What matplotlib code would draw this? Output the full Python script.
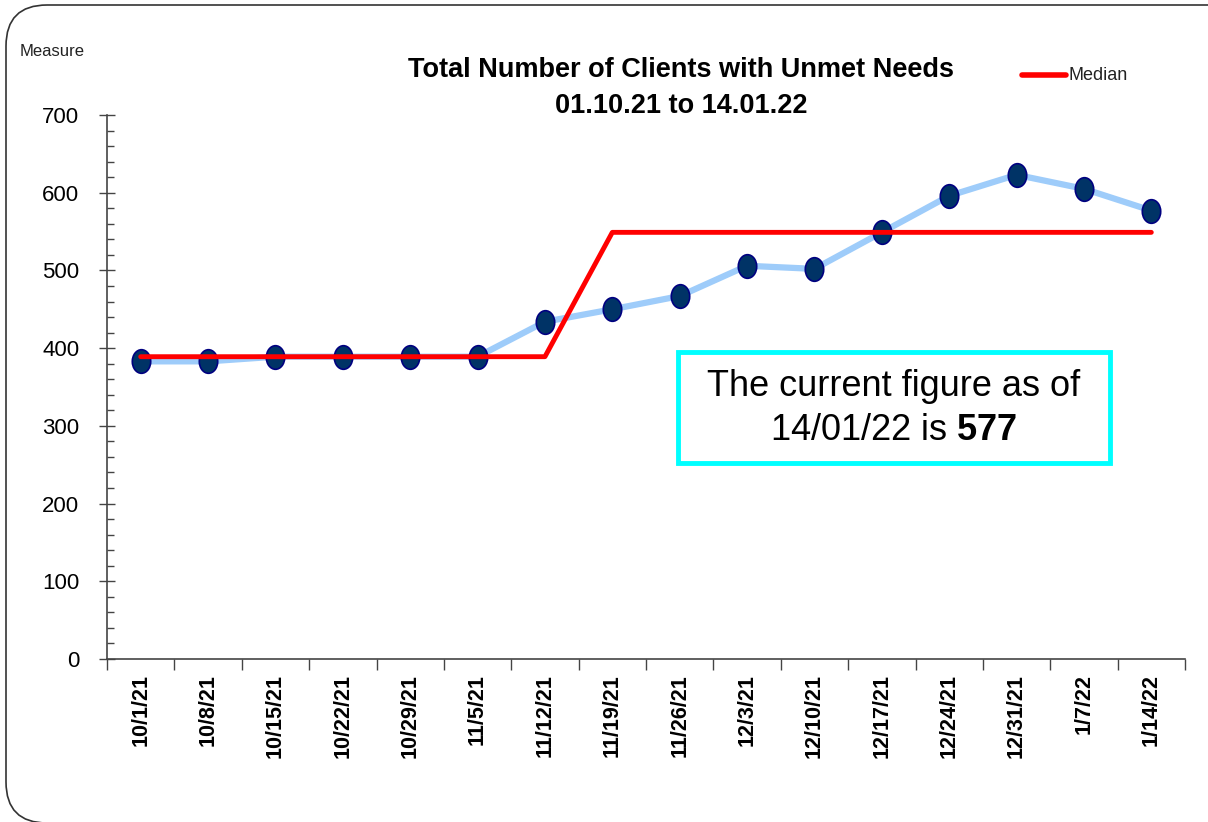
import numpy as np
import matplotlib.pyplot as plt
from matplotlib.path import Path
from matplotlib.patches import FancyBboxPatch
from matplotlib.lines import Line2D
from matplotlib.ticker import MultipleLocator, FixedLocator

# data
dates = ["10/1/21", "10/8/21", "10/15/21", "10/22/21", "10/29/21", "11/5/21",
         "11/12/21", "11/19/21", "11/26/21", "12/3/21", "12/10/21", "12/17/21",
         "12/24/21", "12/31/21", "1/7/22", "1/14/22"]
measure = [383, 383, 389, 389, 389, 389, 434, 450, 467, 506, 502, 549,
           596, 623, 605, 577]
median = [389, 389, 389, 389, 389, 389, 389, 549, 549, 549, 549, 549,
          549, 549, 549, 549]

plt.rcParams["font.family"] = ["Liberation Sans", "DejaVu Sans"]
plt.rcParams["mathtext.fontset"] = "custom"
plt.rcParams["mathtext.bf"] = "Liberation Sans:bold"
plt.rcParams["mathtext.rm"] = "Liberation Sans"

W, H = 1208, 822
fig = plt.figure(figsize=(W / 100, H / 100), dpi=100)

# rounded frame round the whole picture (right and bottom edges run off the image)
frame = FancyBboxPatch((6 / W, 1 - 823 / H), 1.1, (823 - 5) / H,
                       boxstyle="round,pad=0,rounding_size=0.034",
                       transform=fig.transFigure, facecolor="none",
                       edgecolor="#333333", linewidth=1.2, clip_on=False,
                       mutation_aspect=W / H)
fig.patches.append(frame)

ax = fig.add_axes([107 / W, 1 - 659 / H, (1185 - 107) / W, (659 - 115) / H])

x = np.arange(len(dates))

# elliptical marker, taller than wide
circle = Path.unit_circle()
ellipse = Path(circle.vertices * np.array([0.78, 1.0]), circle.codes)

ax.plot(x, measure, color="#9ECCFA", linewidth=4.5, zorder=2,
        marker=ellipse, markersize=17, markerfacecolor="#003366",
        markeredgecolor="#000080", markeredgewidth=1.2)
ax.plot(x, median, color="#FF0000", linewidth=3.5, zorder=3,
        solid_capstyle="round")

ax.set_xlim(-0.5, len(dates) - 0.5)
ax.set_ylim(0, 700)

for s in ["top", "right"]:
    ax.spines[s].set_visible(False)
for s in ["left", "bottom"]:
    ax.spines[s].set_color("#444444")
    ax.spines[s].set_linewidth(1.2)

# x ticks at category boundaries, labels at centres
ax.xaxis.set_major_locator(FixedLocator(np.arange(-0.5, len(dates), 1.0)))
ax.xaxis.set_minor_locator(FixedLocator(x))
ax.set_xticklabels([], minor=False)
ax.set_xticklabels(dates, minor=True, rotation=90, fontsize=15.5,
                   fontweight="bold")
ax.tick_params(axis="x", which="major", length=8, direction="out",
               color="#444444", width=1)
ax.tick_params(axis="x", which="minor", length=0, pad=11)

ax.yaxis.set_major_locator(MultipleLocator(100))
ax.yaxis.set_minor_locator(MultipleLocator(20))
ax.tick_params(axis="y", which="major", direction="inout", length=12,
               color="#444444", width=1, pad=14, labelsize=16)
ax.tick_params(axis="y", which="minor", direction="in", length=5,
               color="#444444", width=1)

# title, axis caption, legend
fig.text(681 / W, 1 - 70 / H, "Total Number of Clients with Unmet Needs",
         ha="center", va="center", fontsize=19.5, fontweight="bold")
fig.text(681 / W, 1 - 106 / H, "01.10.21 to 14.01.22",
         ha="center", va="center", fontsize=19.5, fontweight="bold")
fig.text(20 / W, 1 - 51 / H, "Measure", ha="left", va="center",
         fontsize=12, color="#222222")

fig.lines.append(Line2D([1022 / W, 1066 / W], [1 - 75 / H, 1 - 75 / H],
                        transform=fig.transFigure, color="#FF0000",
                        linewidth=4, solid_capstyle="round"))
fig.text(1068 / W, 1 - 76 / H, "Median", ha="left", va="center",
         fontsize=13, color="#222222")

# annotation box
box = FancyBboxPatch((678 / W, 1 - 463 / H), (1110 - 678) / W,
                     (463 - 352) / H, boxstyle="square,pad=0",
                     transform=fig.transFigure, facecolor="white",
                     edgecolor="#00FFFF", linewidth=3.5, zorder=5)
fig.patches.append(box)
fig.text(894 / W, 1 - 386 / H, "The current figure as of",
         ha="center", va="center", fontsize=26, zorder=6)
fig.text(894 / W, 1 - 430 / H, r"14/01/22 is $\mathbf{577}$",
         ha="center", va="center", fontsize=26, zorder=6)

fig.savefig("out.png", dpi=100)
